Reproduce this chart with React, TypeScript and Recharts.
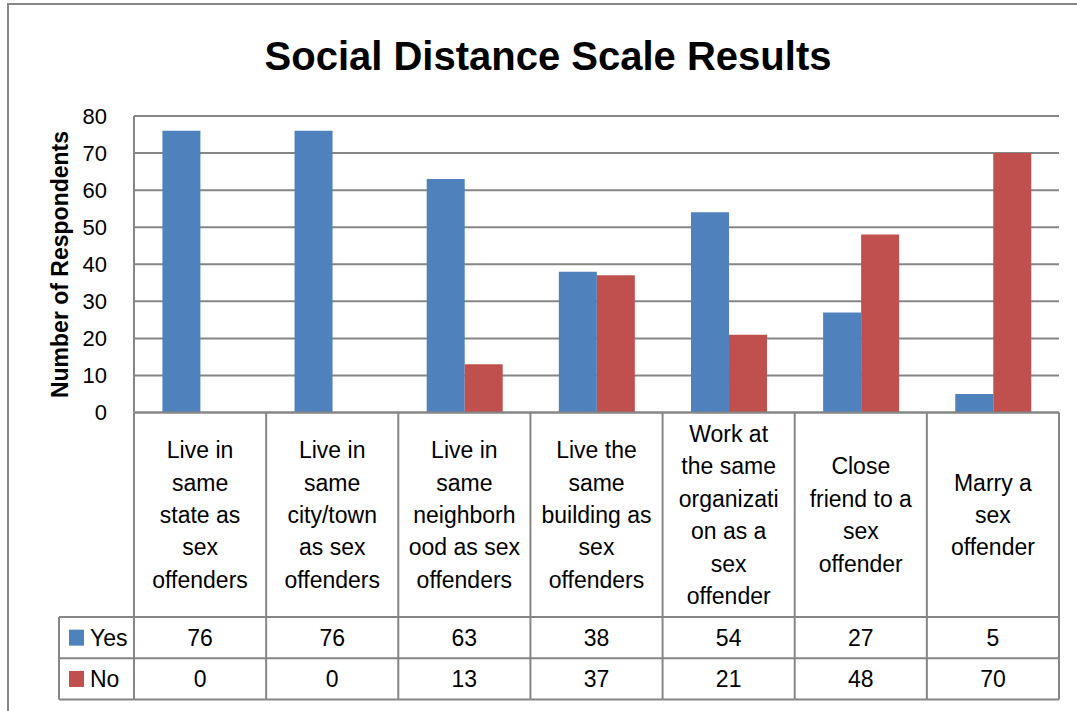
import { Bar, BarChart, CartesianGrid, XAxis, YAxis } from "recharts";

// category labels, wrapped the way the original table wraps them
const categoryLines: string[][] = [
  ["Live in", "same", "state as", "sex", "offenders"],
  ["Live in", "same", "city/town", "as sex", "offenders"],
  ["Live in", "same", "neighborh", "ood as sex", "offenders"],
  ["Live the", "same", "building as", "sex", "offenders"],
  ["Work at", "the same", "organizati", "on as a", "sex", "offender"],
  ["Close", "friend to a", "sex", "offender"],
  ["Marry a", "sex", "offender"],
];
const categories = categoryLines.map((l) => l.join(" "));
const yesValues = [76, 76, 63, 38, 54, 27, 5];
const noValues = [0, 0, 13, 37, 21, 48, 70];
const yTicks = [0, 10, 20, 30, 40, 50, 60, 70, 80];
const seriesNames = ["Yes", "No"];
const seriesColors = ["#4F81BD", "#C0504D"];

const data = categories.map((name, i) => ({
  name,
  yes: yesValues[i],
  no: noValues[i],
}));

const GRID = "#868686";
const FONT = "'Liberation Sans', Arial, sans-serif";
const LABEL_H = 204.5;
const ROW_H = 41.3;
const LEGEND_W = 75;

function TableTick(props: any) {
  const { x, y, payload, index } = props;
  const i = index ?? payload?.index ?? 0;
  const half = payload?.offset || 925 / 14;
  const left = x - half;
  const right = x + half;
  const lines = categoryLines[i] || [];
  const mid = y + LABEL_H / 2;
  const r1 = y + LABEL_H;
  const r2 = r1 + ROW_H;
  const r3 = r2 + ROW_H;
  const values = [yesValues[i], noValues[i]];

  return (
    <g>
      {lines.map((t, k) => (
        <text
          key={k}
          x={x}
          y={mid + (k - (lines.length - 1) / 2) * 32.4 + 8.2}
          textAnchor="middle"
          fontSize={23}
          fontFamily={FONT}
          fill="#000"
        >
          {t}
        </text>
      ))}
      {values.map((v, k) => (
        <text
          key={"v" + k}
          x={x}
          y={r1 + ROW_H * k + ROW_H / 2 + 8.2}
          textAnchor="middle"
          fontSize={23}
          fontFamily={FONT}
          fill="#000"
        >
          {v}
        </text>
      ))}
      <line x1={right} x2={right} y1={y} y2={r3} stroke={GRID} strokeWidth={2} />
      {[r1, r2, r3].map((ry, k) => (
        <line key={"h" + k} x1={left} x2={right} y1={ry} y2={ry} stroke={GRID} strokeWidth={2} />
      ))}
      {i === 0 && (
        <g>
          <line x1={left} x2={left} y1={y} y2={r3} stroke={GRID} strokeWidth={2} />
          <line x1={left - LEGEND_W} x2={left - LEGEND_W} y1={r1} y2={r3} stroke={GRID} strokeWidth={2} />
          {[r1, r2, r3].map((ry, k) => (
            <line key={"lh" + k} x1={left - LEGEND_W} x2={left} y1={ry} y2={ry} stroke={GRID} strokeWidth={2} />
          ))}
          {seriesNames.map((s, k) => (
            <g key={"lg" + k}>
              <rect
                x={left - LEGEND_W + 10}
                y={r1 + ROW_H * k + ROW_H / 2 - 8}
                width={15}
                height={16}
                fill={seriesColors[k]}
              />
              <text
                x={left - LEGEND_W + 31}
                y={r1 + ROW_H * k + ROW_H / 2 + 8.2}
                fontSize={23}
                fontFamily={FONT}
                fill="#000"
              >
                {s}
              </text>
            </g>
          ))}
        </g>
      )}
    </g>
  );
}

export default function App() {
  return (
    <div
      style={{
        position: "absolute",
        left: 0,
        top: 0,
        width: 1077,
        height: 711,
        overflow: "hidden",
        background: "#fff",
        fontFamily: FONT,
      }}
    >
      <div
        style={{
          position: "absolute",
          left: 7,
          top: 3,
          width: 3000,
          height: 3000,
          border: "2px solid #878787",
        }}
      />
      <div
        style={{
          position: "absolute",
          left: 0,
          top: 36,
          width: 1096,
          height: 40,
          lineHeight: "40px",
          fontSize: 40,
          fontWeight: "bold",
          textAlign: "center",
          color: "#000",
        }}
      >
        Social Distance Scale Results
      </div>
      <div
        style={{
          position: "absolute",
          left: 59.5 - 200,
          top: 264.5 - 11.5,
          width: 400,
          height: 23,
          lineHeight: "23px",
          fontSize: 23,
          fontWeight: "bold",
          textAlign: "center",
          transform: "rotate(-90deg)",
          color: "#000",
        }}
      >
        Number of Respondents
      </div>
      <div style={{ position: "absolute", left: 0, top: 0 }}>
        <BarChart
          width={1077}
          height={711}
          data={data}
          margin={{ top: 116, right: 18, bottom: 11.5, left: 8 }}
          barCategoryGap="21.5%"
          barGap={0}
        >
          <CartesianGrid stroke={GRID} strokeWidth={2} vertical={false} />
          <XAxis
            dataKey="name"
            height={287}
            interval={0}
            tickSize={0}
            tickMargin={0}
            tickLine={false}
            axisLine={{ stroke: GRID, strokeWidth: 2 }}
            tick={<TableTick />}
          />
          <YAxis
            width={126}
            domain={[0, 80]}
            ticks={yTicks}
            interval={0}
            tickLine={false}
            tickSize={0}
            tickMargin={27}
            axisLine={{ stroke: GRID, strokeWidth: 2 }}
            tick={{ fill: "#000", fontSize: 22, fontFamily: FONT }}
          />
          <Bar dataKey="yes" name="Yes" fill={seriesColors[0]} isAnimationActive={false} />
          <Bar dataKey="no" name="No" fill={seriesColors[1]} isAnimationActive={false} />
        </BarChart>
      </div>
    </div>
  );
}
